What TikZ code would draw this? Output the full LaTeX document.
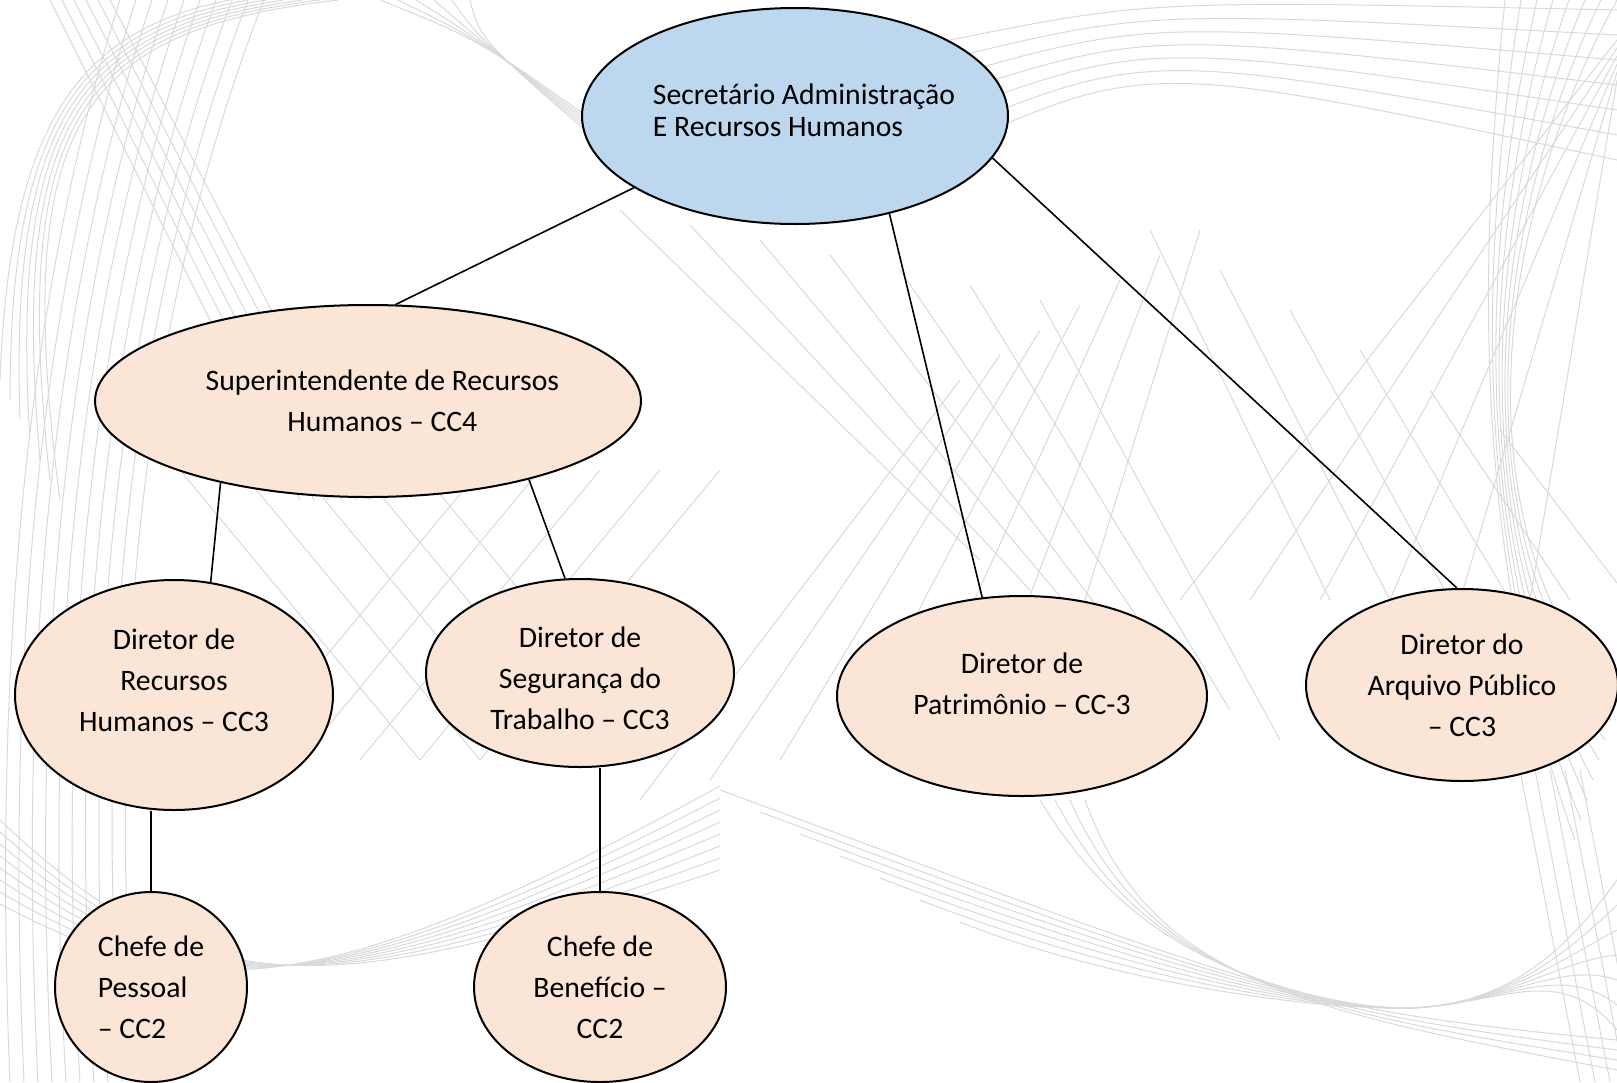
\documentclass[tikz,border=0pt]{standalone}
\usepackage{fontspec}
\setmainfont{Carlito}
\usepackage{tikz}
\usetikzlibrary{shapes,positioning,calc}
\definecolor{headblue}{HTML}{BDD7EE}
\definecolor{postpeach}{HTML}{FBE5D6}

\begin{document}
\begin{tikzpicture}[x=0.5pt, y=-0.5pt,
    bgline/.style={draw=black!15, line width=0.5pt},
    post/.style={draw, line width=1pt, ellipse, inner sep=0pt, fill=postpeach,
        align=center, font=\fontsize{14.85pt}{20.5pt}\selectfont},
    head/.style={post, fill=headblue, align=left, inner xsep=-10pt, font=\fontsize{14.85pt}{16pt}\selectfont},
    link/.style={draw, line width=0.8pt}]
    \clip (0,0) rectangle (1617,1082);

    % background waves
    \foreach \i in {0,...,9}
        \draw[bgline] (10+\i*14,1082) .. controls (\i*12-10,600) and (40+\i*14,250) .. (120+\i*16,0);
    \foreach \i in {0,...,6}
        \draw[bgline] (\i*10,380+\i*20) .. controls (10,120) and (80,30) .. (230+\i*18,0);
    \foreach \i in {0,...,5}
        \draw[bgline] (50+\i*12,0) -- (300+\i*14,500);
    \foreach \i in {0,...,5}
        \draw[bgline] (380+\i*18,0) .. controls (480,40) .. (620,140+\i*4);
    \foreach \i in {0,...,6}
        \draw[bgline] (950,40+\i*18) .. controls (1150,\i*10) .. (1617,10+\i*25);
    \foreach \i in {0,...,5}
        \draw[bgline] (1617,40+\i*8) -- (1180+\i*70,600);
    \foreach \i in {0,...,5}
        \draw[bgline] (1150+\i*70,230+\i*40) -- (1330+\i*60,600);
    \foreach \i in {0,...,7}
        \draw[bgline] (1617-\i*16,0) .. controls (1480,250) and (1470,550) .. (1617-\i*6,700+\i*20);
    \foreach \i in {0,...,6}
        \draw[bgline] (620+\i*70,210+\i*15) -- (980+\i*50,560+\i*30);
    \foreach \i in {0,...,6}
        \draw[bgline] (640+\i*70,800-\i*20) -- (960+\i*40,380-\i*25);
    \foreach \i in {0,...,4}
        \draw[bgline] (180+\i*60,470) -- (420+\i*60,760);
    \foreach \i in {0,...,4}
        \draw[bgline] (240+\i*60,760) -- (480+\i*60,470);
    \foreach \i in {0,...,7}
        \draw[bgline] (0,820+\i*12) .. controls (200,1010) and (330,1000) .. (720,870-\i*12);
    \foreach \i in {0,...,6}
        \draw[bgline] (720+\i*40,790+\i*22) .. controls (1100,930+\i*8) and (1300,1010) .. (1410,1008)
            .. controls (1500,1005) and (1560,960) .. (1617,880+\i*25);
    \foreach \i in {0,...,3}
        \draw[bgline] (1040+\i*15,800) .. controls (1150,980) and (1300,1010) .. (1617,1040+\i*10);
    \foreach \i in {0,...,4}
        \draw[bgline] (1520+\i*15,770) -- (1580+\i*15,1082);

    % posts
    \node[head, minimum width=213pt, minimum height=108pt] (sec) at (795,116)
        {\hspace*{9pt}Secretário Administração\\\hspace*{9pt}E Recursos Humanos\rule[-6pt]{0pt}{0pt}};
    \node[post, minimum width=273pt, minimum height=96pt] (sup) at (368,401)
        {\hspace*{14.4pt}Superintendente de Recursos\\\hspace*{14.4pt}Humanos -- CC4};
    \node[post, minimum width=159pt, minimum height=115pt] (rh) at (174,695)
        {Diretor de\\Recursos\\Humanos -- CC3\rule[-14.5pt]{0pt}{0pt}};
    \node[post, minimum width=154pt, minimum height=94pt] (seg) at (580,673)
        {\rule{0pt}{15.6pt}Diretor de\\Segurança do\\Trabalho -- CC3};
    \node[post, minimum width=185pt, minimum height=100pt] (pat) at (1022,696)
        {Diretor de\\Patrimônio -- CC-3\rule[-12.5pt]{0pt}{0pt}};
    \node[post, minimum width=156pt, minimum height=96pt] (arq) at (1462,685)
        {Diretor do\\Arquivo Público\\-- CC3};
    \node[post, align=left, minimum width=96pt, minimum height=95pt] (pes) at (151,987)
        {Chefe de\\Pessoal\\-- CC2};
    \node[post, minimum width=126pt, minimum height=95pt] (ben) at (600,987)
        {Chefe de\\Benefício --\\CC2};

    % links
    \draw[link] (sec.204) -- (sup.74);
    \draw[link] (sec.314) -- (pat.112);
    \draw[link] (sec.348) -- (arq.93);
    \draw[link] (sup.209) -- (rh.72);
    \draw[link] (sup.334) -- (seg.99);
    \draw[link] (pes.north) -- (pes.north |- rh.south);
    \draw[link] (ben.north) -- (ben.north |- seg.south);
\end{tikzpicture}
\end{document}
